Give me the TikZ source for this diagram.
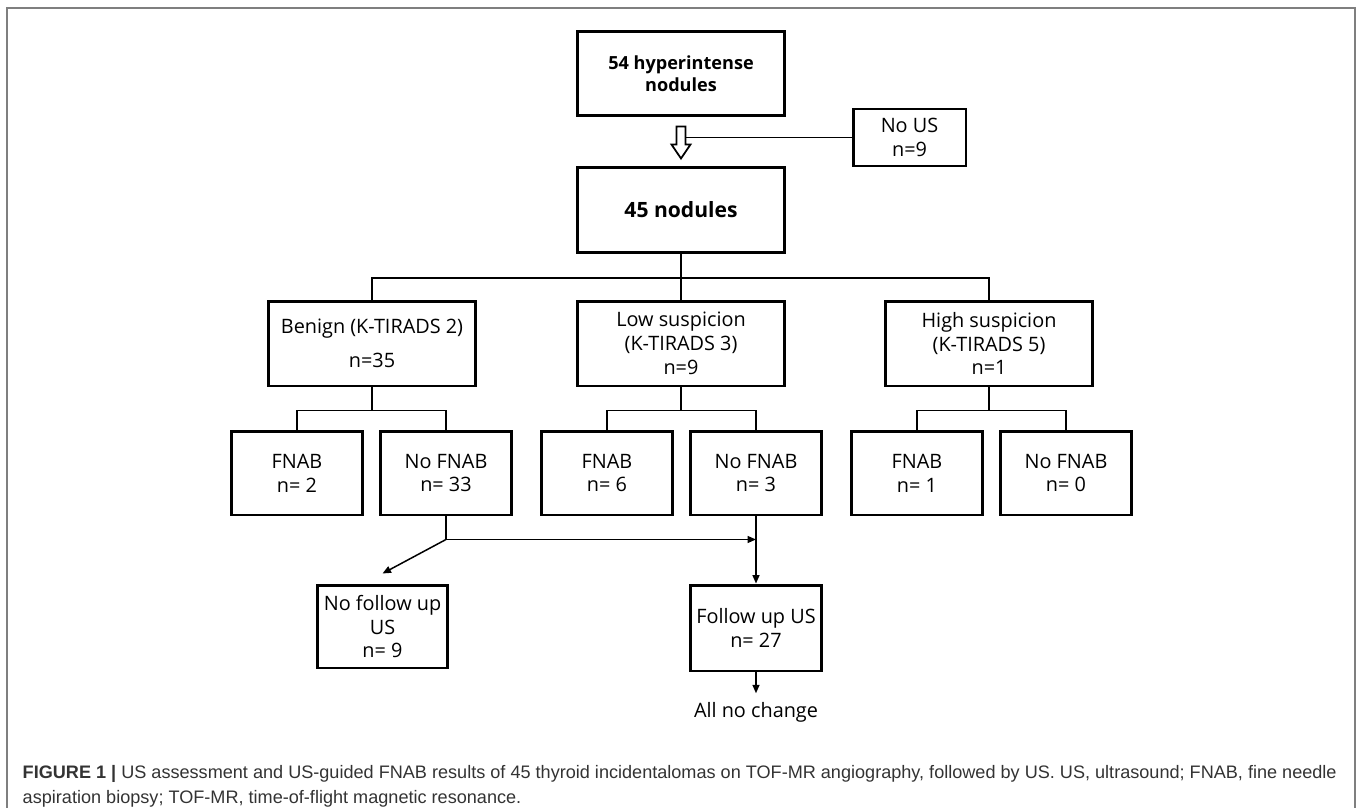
\documentclass[tikz,border=0pt]{standalone}
\usepackage{fontspec}
\setmainfont{Open Sans}
\newfontfamily\capfont{Liberation Sans}
\usetikzlibrary{arrows.meta, calc}
\definecolor{cframe}{HTML}{7F7F7F}
\definecolor{ccap}{HTML}{333333}
\tikzset{
  every picture/.style={line width=0.85pt},
  txt/.style={font=\fontsize{11.3}{13.6}\selectfont},
  box/.style={draw, line width=1.7pt, align=center, inner sep=2pt, txt},
  big/.style={box, minimum width=4.16cm, minimum height=1.7cm},
  small/.style={box, minimum width=2.62cm, minimum height=1.68cm},
  link/.style={draw, line width=0.85pt},
  arrow/.style={link, -{Triangle[length=1.7mm, width=1.4mm]}},
  captxt/.style={font=\capfont\fontsize{10.3}{12}\selectfont, text=ccap, inner sep=0pt},
}

\begin{document}
\begin{tikzpicture}[x=0.02cm, y=-0.02cm, bold/.style={font=\fontsize{10.3}{12.6}\selectfont\bfseries}]
  \useasboundingbox (0,0) rectangle (1357,808);
  \draw[cframe, line width=0.04cm] (7,808) -- (7,8) -- (1355,8) -- (1355,808);
  % top of the chart
  \node[big, bold] (hyper) at (681, 73.5) {54 hyperintense\\nodules};
  \node[big, font=\fontsize{12}{14}\selectfont\bfseries] (n45) at (681, 210) {45 nodules};
  \node[box, minimum width=2.26cm, minimum height=1.14cm] (nous) at (909.5, 137.5) {No US\\n=9};
  \draw[line width=1pt] (hyper.south) ++(-4.5,9) -- ++(0,18) -- ++(-5,0) -- ++(9.5,14) -- ++(9.5,-14) -- ++(-5,0) -- ++(0,-18) coordinate (hj) -- cycle;
  \draw[link] (nous.west) -- (nous.west -| hj);
  % K-TIRADS groups
  \node[big] (benign) at (372, 343.5) {Benign (K-TIRADS 2)\\[6pt]n=35};
  \node[big] (low) at (681, 343.5) {Low suspicion\\(K-TIRADS 3)\\n=9};
  \node[big] (high) at (989, 343.5) {High suspicion\\(K-TIRADS 5)\\n=1};
  \coordinate (tj) at ($(n45.south)+(0,24)$);
  \draw[link] (n45.south) -- (tj);
  \draw[link] (benign.north) |- (tj) -| (high.north);
  \draw[link] (tj) -- (low.north);
  \foreach \g/\a/\b/\x in {benign/2/33/297, low/6/3/607, high/1/0/917} {
    \node[small] (\g f) at (\x, 473) {FNAB\\n= \a};
    \node[small] (\g n) at (\x+149, 473) {No FNAB\\n= \b};
    \draw[link] (\g.south) -- ++(0,23) coordinate (\g j);
    \draw[link] (\g f.north) |- (\g j) -| (\g n.north);
  }
  % follow up
  \node[box, minimum width=2.62cm, minimum height=1.66cm] (nofu) at (382.5, 626.5) {No follow up\\US\\n= 9};
  \node[box, minimum width=2.62cm, minimum height=1.72cm] (fu) at (756, 628) {Follow up US\\n= 27};
  \node[txt, anchor=base, inner sep=4.5pt] (allno) at (756, 717) {All no change};
  \draw[link] (benignn.south) -- ++(0,23) coordinate (bj);
  \draw[arrow] (bj) -- (bj -| lown.south);
  \draw[arrow] (bj) -- ($(nofu.north)+(0,-10)$);
  \draw[arrow] (lown.south) -- (fu.north);
  \draw[arrow] (fu.south) -- (allno.north);
  % caption
  \node[captxt, anchor=base west] (cap1) at (22, 778) {\textbf{FIGURE 1 |} US assessment and US-guided FNAB results of 45 thyroid incidentalomas on TOF-MR angiography, followed by US. US, ultrasound; FNAB, fine needle};
  \node[captxt, anchor=base west] (cap2) at (22, 803) {aspiration biopsy; TOF-MR, time-of-flight magnetic resonance.};
\end{tikzpicture}
\end{document}
